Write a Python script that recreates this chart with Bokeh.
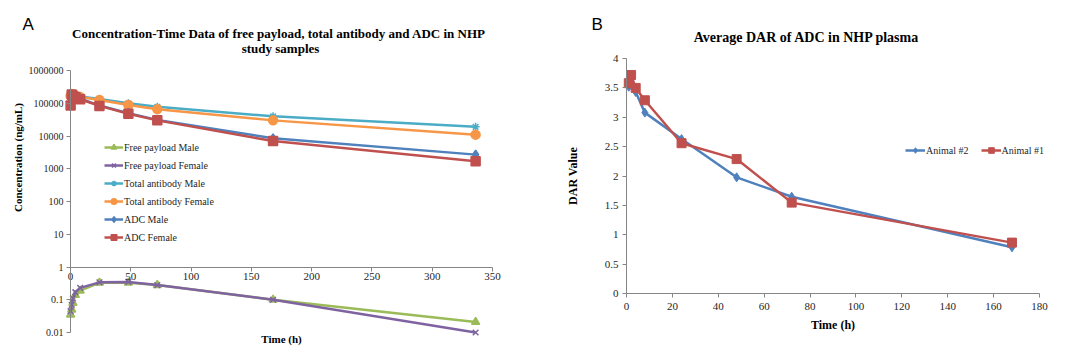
import math
from bokeh.plotting import figure
from bokeh.models import (Range1d, FixedTicker, CustomJSTickFormatter,
                          Legend, LegendItem, Label)
from bokeh.layouts import row
from bokeh.embed import file_html
from bokeh.resources import INLINE

SERIF = "Liberation Serif"
AXIS_COL = "#868686"
TXT_COL = "#262626"

# ---------------- Panel A data ----------------
time_a = [0.083, 1, 2, 4, 8, 24, 48, 72, 168, 336]
free_payload_male = [0.035, 0.05, 0.08, 0.14, 0.19, 0.33, 0.33, 0.28, 0.10, 0.021]
free_payload_female = [0.045, 0.07, 0.11, 0.17, 0.23, 0.34, 0.35, 0.28, 0.10, 0.010]
total_ab_male = [175000, 195000, 185000, 175000, 160000, 135000, 100000, 78000, 40000, 19000]
total_ab_female = [170000, 190000, 180000, 170000, 155000, 125000, 88000, 66000, 30000, 11000]
adc_male = [90000, 180000, 170000, 160000, 140000, 85000, 50000, 31000, 8500, 2700]
adc_female = [85000, 185000, 170000, 155000, 132000, 83000, 48000, 30000, 7000, 1700]
y_ticks_a = [0.01, 0.1, 1, 10, 100, 1000, 10000, 100000, 1000000]
x_ticks_a = [0, 50, 100, 150, 200, 250, 300, 350]

# ---------------- Panel B data ----------------
time_b = [1, 2, 4, 8, 24, 48, 72, 168]
dar_animal2 = [3.52, 3.55, 3.43, 3.08, 2.63, 1.98, 1.65, 0.79]
dar_animal1 = [3.58, 3.72, 3.50, 3.29, 2.56, 2.29, 1.55, 0.87]
y_ticks_b = [0, 0.5, 1, 1.5, 2, 2.5, 3, 3.5, 4]
x_ticks_b = [0, 20, 40, 60, 80, 100, 120, 140, 160, 180]

num_fmt = CustomJSTickFormatter(code="return String(+tick.toPrecision(6));")

W_A, W_B, H = 540, 529, 353


def style_axis(ax, tick_size="10px", label_size="11px"):
    ax.axis_line_color = AXIS_COL
    ax.major_tick_line_color = AXIS_COL
    ax.minor_tick_line_color = None
    ax.major_tick_in = 0
    ax.major_tick_out = 4
    ax.major_label_text_font = SERIF
    ax.major_label_text_font_size = tick_size
    ax.major_label_text_color = TXT_COL
    ax.axis_label_text_font = SERIF
    ax.axis_label_text_font_style = "bold"
    ax.axis_label_text_font_size = label_size
    ax.axis_label_text_color = "#000000"


def bare(p):
    p.grid.visible = False
    p.outline_line_color = None
    p.background_fill_color = "white"
    p.border_fill_color = "white"


def txt(p, x, y, s, size, bold=True, font=SERIF, align="center", angle=0.0):
    p.add_layout(Label(x=x, y=H - y, x_units="screen", y_units="screen", text=s,
                       text_align=align, text_baseline="middle", angle=angle,
                       text_font=font, text_font_size=size,
                       text_font_style="bold" if bold else "normal",
                       text_color="#000000"))


# ================= Panel A =================
# The frame fills the whole canvas; axes are pinned at x=0 and y=1.
# x: 0 -> 70 px, 350 -> 492 px ; y(log): 1e6 -> 70 px, 0.01 -> 332 px
ax_px = (492 - 70) / 350.0
ay_px = (332 - 70) / 8.0
pa = figure(width=W_A, height=H, y_axis_type="log",
            x_range=Range1d(-70 / ax_px, (W_A - 70) / ax_px),
            y_range=Range1d(10 ** (-2 - (H - 332) / ay_px), 10 ** (6 + 70 / ay_px)),
            output_backend="svg", toolbar_location=None, title=None,
            min_border=0)
bare(pa)

yax = pa.yaxis[0]
yax.ticker = FixedTicker(ticks=y_ticks_a)
yax.formatter = num_fmt
yax.fixed_location = 0
yax.bounds = (0.01, 1000000)
style_axis(yax)
yax.major_label_standoff = 3

xax = pa.xaxis[0]
xax.ticker = FixedTicker(ticks=x_ticks_a)
xax.formatter = num_fmt
xax.fixed_location = 1
xax.bounds = (0, 350)
xax.axis_label = "Time (h)"
style_axis(xax, tick_size="11px")
xax.major_label_standoff = 2
xax.axis_label_standoff = 49

series_a = [
    ("Free payload Male", free_payload_male, "#9BBB59", "triangle", 8),
    ("Free payload Female", free_payload_female, "#7F63A1", "x", 8),
    ("Total antibody Male", total_ab_male, "#4BACC6", "asterisk", 8),
    ("Total antibody Female", total_ab_female, "#F79646", "circle", 9),
    ("ADC Male", adc_male, "#4F81BD", "diamond", 9),
    ("ADC Female", adc_female, "#C0504D", "square", 9),
]
items_a = []
for name, vals, col, mk, sz in series_a:
    lr = pa.line(time_a, vals, line_color=col, line_width=2.5)
    sr = pa.scatter(time_a, vals, marker=mk, size=sz, fill_color=col, line_color=col, line_width=1.5)
    items_a.append(LegendItem(label=name, renderers=[lr, sr]))

leg_a = Legend(items=items_a, location=(104, H - 244), orientation="vertical",
               background_fill_alpha=0, border_line_color=None,
               label_text_font=SERIF, label_text_font_size="10px", label_text_color=TXT_COL,
               glyph_width=19, glyph_height=14, label_height=14, spacing=4,
               padding=0, margin=0, label_standoff=1)
pa.add_layout(leg_a, "center")

txt(pa, 280, 33, "Concentration-Time  Data of free payload, total antibody and ADC in NHP", "13px")
txt(pa, 280, 48, "study samples", "13px")
txt(pa, 17, 157, "Concentration (ng/mL)", "11px", angle=math.pi / 2)
txt(pa, 22, 24, "A", "17px", bold=False, font="Liberation Sans", align="left")

# ================= Panel B =================
# x: 0 -> 86 px, 180 -> 499 px ; y: 0 -> 293.3 px, 4 -> 58 px
bx_px = (499 - 86) / 180.0
by_px = (293.3 - 58) / 4.0
pb = figure(width=W_B, height=H,
            x_range=Range1d(-86 / bx_px, (W_B - 86) / bx_px),
            y_range=Range1d(-(H - 293.3) / by_px, 4 + 58 / by_px),
            output_backend="svg", toolbar_location=None, title=None,
            min_border=0)
bare(pb)

ybx = pb.yaxis[0]
ybx.ticker = FixedTicker(ticks=y_ticks_b)
ybx.formatter = num_fmt
ybx.fixed_location = 0
ybx.bounds = (0, 4)
ybx.axis_label = "DAR Value"
style_axis(ybx, tick_size="11px", label_size="12px")
ybx.major_label_standoff = 4
ybx.axis_label_standoff = 22

xbx = pb.xaxis[0]
xbx.ticker = FixedTicker(ticks=x_ticks_b)
xbx.formatter = num_fmt
xbx.fixed_location = 0
xbx.bounds = (0, 180)
xbx.axis_label = "Time (h)"
style_axis(xbx, tick_size="11px", label_size="12px")

l2 = pb.line(time_b, dar_animal2, line_color="#4F81BD", line_width=2.5)
s2 = pb.scatter(time_b, dar_animal2, marker="diamond", size=9, fill_color="#4F81BD", line_color="#4F81BD")
l1 = pb.line(time_b, dar_animal1, line_color="#C0504D", line_width=2.5)
s1 = pb.scatter(time_b, dar_animal1, marker="square", size=9, fill_color="#C0504D", line_color="#C0504D")

leg_b = Legend(items=[LegendItem(label="Animal #2", renderers=[l2, s2]),
                      LegendItem(label="Animal #1", renderers=[l1, s1])],
               location=(365, H - 157), orientation="horizontal",
               background_fill_alpha=0, border_line_color=None,
               label_text_font=SERIF, label_text_font_size="10px", label_text_color=TXT_COL,
               glyph_width=20, glyph_height=14, label_height=14, spacing=12,
               padding=0, margin=0, label_standoff=1)
pb.add_layout(leg_b, "center")

txt(pb, 268, 37, "Average  DAR of ADC in NHP plasma", "14px")
txt(pb, 51, 24, "B", "17px", bold=False, font="Liberation Sans", align="left")

layout = row(pa, pb)
open("out.html", "w").write(file_html(layout, INLINE))
